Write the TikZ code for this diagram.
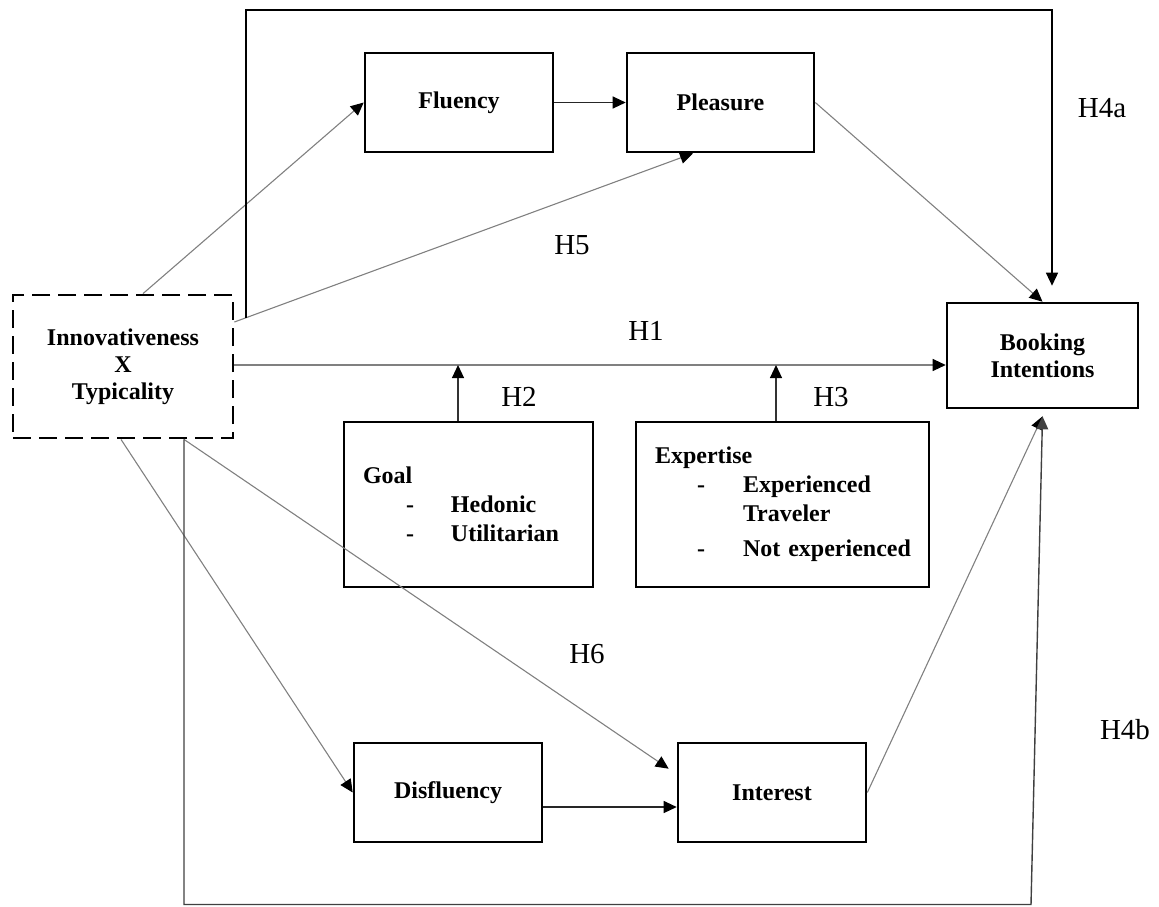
\documentclass[tikz,border=0pt]{standalone}
\usepackage{fontspec}
\setmainfont{Liberation Serif}
\usetikzlibrary{arrows.meta,calc,positioning}
\tikzset{>={Triangle[length=6.5pt,width=6pt]},
  every node/.style={font=\fontsize{12}{13.5}\selectfont\bfseries},
  box/.style={draw,line width=1.3pt,inner sep=0pt,align=center},
  dashbox/.style={box,dash pattern=on 9pt off 4pt,line width=1.4pt},
  listbox/.style={draw,line width=1.3pt,align=left,inner xsep=9.5pt,
    font=\fontsize{12}{14.5}\selectfont\bfseries},
  link/.style={-{Triangle[length=6.5pt,width=6pt,color=black]},draw=black!50,line width=.55pt},
  pathline/.style={->,draw=black,line width=.7pt},
  hyp/.style={font=\fontsize{14.5}{16}\selectfont}}

\begin{document}
\begin{tikzpicture}[x=.5pt,y=-.5pt]
\useasboundingbox (0,0) rectangle (1159,906);
% constructs
\node[dashbox,minimum width=110pt,minimum height=71.5pt] (inno) at (123,366.5) {Innovativeness\\X\\Typicality};
\node[box,minimum width=94pt,minimum height=49.5pt] (flu) at (459,102.5) {Fluency};
\node[box,minimum width=93.5pt,minimum height=49.5pt] (plea) at (720.5,102.5) {Pleasure};
\node[box,minimum width=95.5pt,minimum height=52.5pt] (book) at (1042.5,355.5) {Booking\\Intentions};
\node[listbox,text width=105.5pt,minimum height=82.5pt] (goal) at (468.5,504.5) {Goal\\
  \hspace*{21.5pt}\makebox[22.5pt][l]{-}Hedonic\\
  \hspace*{21.5pt}\makebox[22.5pt][l]{-}Utilitarian};
\node[listbox,text width=127.5pt,minimum height=82.5pt] (expt) at (782.5,504.5) {Expertise\\
  \hspace*{21pt}\makebox[23pt][l]{-}Experienced\\
  \hspace*{44pt}Traveler\\[3pt]
  \hspace*{21pt}\makebox[23pt][l]{-}\mbox{Not experienced}};
\node[box,minimum width=94pt,minimum height=49.5pt] (disf) at (448,792.5) {Disfluency};
\node[box,minimum width=94pt,minimum height=49.5pt] (intr) at (772,792.5) {Interest};
% corners of the two long paths
\coordinate (ta) at (246,318);
\coordinate (tb) at (246,10);
\coordinate (tc) at (1052,10);
\coordinate (ba) at ($(inno.south)+(61,0)$);
\coordinate (bb) at (184,904.5);
\coordinate (bc) at (1031,904.5);
\coordinate (bk) at ($(book.south)+(0,7)$);
% upper route
\draw[link] ($(inno.north)+(20,0)$) -- (flu.west);
\draw[link,draw=black!85] (flu.east) -- (plea.west);
\draw[link] ($(inno.east)+(0,-44.5)$) -- ($(plea.south)+(-27.5,0)$);
\draw[link] (plea.east) -- (book.north);
\draw[pathline] (ta) -- (tb) -- (tc) -- ($(tc |- book.north)+(0,-16)$);
% direct effect and moderators
\draw[link] ($(inno.east)+(0,-1.5)$) -- ($(inno.east -| book.west)+(0,-1.5)$);
\draw[link,draw=black!80] ($(goal.north)+(-10.5,0)$) coordinate (g2) -- ($(g2 |- inno.east)+(0,-1.5)$);
\draw[link,draw=black!80] ($(expt.north)+(-6.5,0)$) coordinate (e3) -- ($(e3 |- inno.east)+(0,-1.5)$);
% lower route
\draw[link] ($(inno.south)+(-2,0)$) -- (disf.west);
\draw[link] (ba) -- ($(intr.north west)+(-8,27)$);
\draw[link,draw=black!85] ($(disf.east)+(0,14.5)$) coordinate (d1) -- (d1 -| intr.west);
\draw[link] (intr.east) -- (bk);
\draw[pathline,draw=black!75] (ba) -- (bb) -- (bc) -- (bk);
% hypotheses
\node[hyp] (h4a) at (1102,108) {H4a};
\node[hyp] (h5) at (572,245) {H5};
\node[hyp] (h1) at (646,331) {H1};
\node[hyp] (h2) at (519,397) {H2};
\node[hyp] (h3) at (831,397) {H3};
\node[hyp] (h6) at (587,654) {H6};
\node[hyp] (h4b) at (1125,730) {H4b};
\end{tikzpicture}
\end{document}
